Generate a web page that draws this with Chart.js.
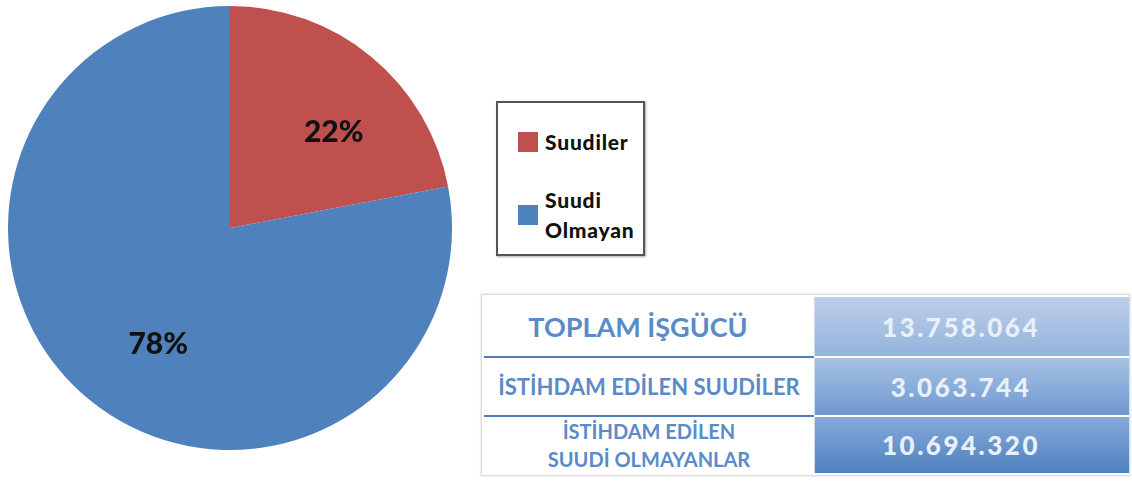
<!DOCTYPE html>
<html>
<head>
<meta charset="utf-8">
<script src="https://cdn.jsdelivr.net/npm/chart.js@4/dist/chart.umd.min.js"></script>
<style>
    body { margin: 0; background: #fff; width: 1132px; height: 482px; position: relative; overflow: hidden; font-family: Lato, "Open Sans", sans-serif; }
    #pieBox { position: absolute; left: 8px; top: 6px; width: 444px; height: 444px; }
    #legend { position: absolute; left: 496px; top: 101px; width: 145px; height: 151px; border: 2px solid #555; box-shadow: 1px 1px 2px #aaa; }
    .leg-item { position: absolute; left: 20px; display: flex; align-items: center; }
    .leg-item span.box { width: 20px; height: 20px; display: inline-block; margin-right: 7px; }
    .leg-item span.txt { font-weight: 900; font-size: 21px; letter-spacing: 0.8px; line-height: 30px; color: #111; }
    #tabel { position: absolute; left: 481px; top: 294px; width: 647px; height: 180px; border: 1px solid #ddd; box-shadow: 0 0 2px #ccc; }
    .row { position: absolute; left: 2px; width: 645px; display: flex; }
    .row .lbl { width: 330px; display: flex; align-items: center; justify-content: center; text-align: center; color: #5a8bc8; font-weight: bold; }
    .row .val { flex: 1; display: flex; align-items: center; justify-content: center; padding-right: 22px; color: #eaf0f8; font-weight: 900; font-size: 26px; letter-spacing: 2.5px; border-left: 1px solid #cfdcee; }
    .sep { position: absolute; left: 2px; width: 330px; height: 2px; background: #4d7dbb; }
</style>
</head>
<body>
<div id="pieBox"><canvas id="chart1"></canvas></div>
<div id="legend"></div>
<div id="tabel"></div>

<script>
// veriler
const kategoriler = ['Suudiler', 'Suudi Olmayan'];
const yuzdeler = [22, 78];
const renkler = ['#C0504D', '#4F81BD'];

const tabloEtiketleri = ['TOPLAM İŞGÜCÜ', 'İSTİHDAM EDİLEN SUUDİLER', 'İSTİHDAM EDİLEN\nSUUDİ OLMAYANLAR'];
const tabloDegerleri = ['13.758.064', '3.063.744', '10.694.320'];

// dilim içindeki yüzde etiketleri
const yuzdeEtiketi = {
    id: 'yuzdeEtiketi',
    afterDatasetsDraw(chart) {
        const ctx = chart.ctx;
        const meta = chart.getDatasetMeta(0);
        ctx.save();
        ctx.font = '900 30px Lato, "Open Sans", sans-serif';
        ctx.fillStyle = '#111';
        ctx.textAlign = 'center';
        ctx.textBaseline = 'middle';
        meta.data.forEach((arc, i) => {
            const p = arc.getProps(['x', 'y', 'startAngle', 'endAngle', 'outerRadius'], true);
            const orta = (p.startAngle + p.endAngle) / 2;
            const r = p.outerRadius * 0.62;
            // excel etiketleri biraz sağ-aşağıda duruyor
            ctx.fillText(yuzdeler[i] + '%', p.x + Math.cos(orta) * r + 16, p.y + Math.sin(orta) * r + 10);
        });
        ctx.restore();
    }
};

const ctx1 = document.getElementById('chart1').getContext('2d');
const chart1 = new Chart(ctx1, {
    type: 'pie',
    data: {
        labels: kategoriler,
        datasets: [{
            data: yuzdeler,
            backgroundColor: renkler,
            borderWidth: 0
        }]
    },
    options: {
        responsive: true,
        maintainAspectRatio: false,
        animation: false,
        layout: { padding: 0 },
        plugins: {
            legend: { display: false },
            tooltip: { enabled: false }
        }
    },
    plugins: [yuzdeEtiketi]
});

// legend (html)
const legend = document.getElementById('legend');
const legendTop = [24, 82];
kategoriler.forEach((k, i) => {
    const item = document.createElement('div');
    item.className = 'leg-item';
    item.style.top = legendTop[i] + 'px';
    const kelimeler = k.split(' ');
    item.innerHTML = '<span class="box" style="background:' + renkler[i] + '"></span>' +
        '<span class="txt">' + kelimeler.join('<br>') + '</span>';
    legend.appendChild(item);
});

// tablo
const tabel = document.getElementById('tabel');
const satirTop = [2, 63, 122];
const satirYuk = [59, 57, 56];
const etiketFont = [27, 22, 20];
const gradyanlar = [
    'linear-gradient(#bccfe9, #93b3dd)',
    'linear-gradient(#a6c1e4, #7099d0)',
    'linear-gradient(#86a9d9, #4f81c0)'
];
tabloEtiketleri.forEach((t, i) => {
    const row = document.createElement('div');
    row.className = 'row';
    row.style.top = satirTop[i] + 'px';
    row.style.height = satirYuk[i] + 'px';
    row.innerHTML = '<div class="lbl" style="font-size:' + etiketFont[i] + 'px;line-height:' + (i === 2 ? 28 : 30) + 'px' +
        (i === 0 ? ';padding-right:22px;box-sizing:border-box' : '') + '">' +
        t.replace('\n', '<br>') + '</div>' +
        '<div class="val" style="background:' + gradyanlar[i] + '">' + tabloDegerleri[i] + '</div>';
    tabel.appendChild(row);
    if (i > 0) {
        const sep = document.createElement('div');
        sep.className = 'sep';
        sep.style.top = (satirTop[i] - 2) + 'px';
        tabel.appendChild(sep);
    }
});
</script>
</body>
</html>
